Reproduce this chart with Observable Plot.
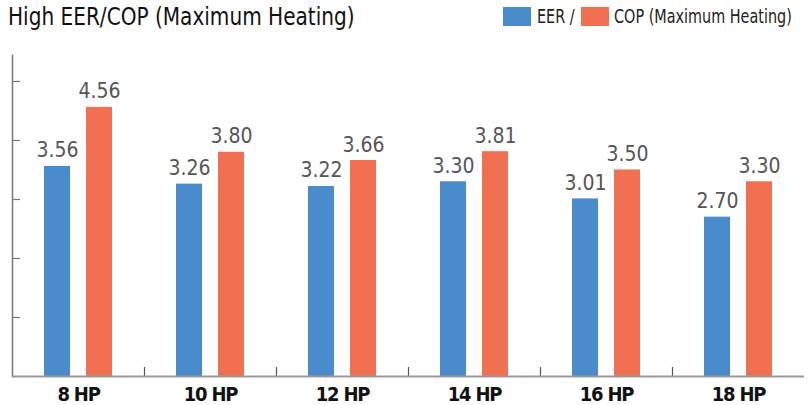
<!DOCTYPE html>
<html><head><meta charset="utf-8">
<script src="https://cdn.jsdelivr.net/npm/d3@7"></script>
<script src="https://cdn.jsdelivr.net/npm/@observablehq/plot@0.6"></script>
<style>
body{margin:0;background:#fff;font-family:"DejaVu Sans Condensed","Liberation Sans Narrow",sans-serif;}
#wrap{width:810px;height:405px;position:relative;overflow:hidden}
#head{height:40px;position:relative}
#title{position:absolute;left:8px;top:3px;font-size:24px;color:#111;white-space:nowrap;transform:scaleX(0.93);transform-origin:0 0}
.sw{position:absolute;top:7px;width:28px;height:19px}
.lt{position:absolute;top:4px;font-size:20px;color:#222;white-space:nowrap;transform:scaleX(0.8);transform-origin:0 0}
#chart svg{display:block}
#chart svg text.val{letter-spacing:-0.6px}
#chart svg g[aria-label="x-axis tick label"] text{letter-spacing:-1.2px}
</style></head>
<body><div id="wrap">
<div id="head">
<div id="title">High EER/COP (Maximum Heating)</div>
<div class="sw" style="left:503px;background:#4a8bcb"></div><div class="lt" style="left:537px">EER /</div>
<div class="sw" style="left:581px;background:#f27052"></div><div class="lt" style="left:614px">COP (Maximum Heating)</div>
</div>
<div id="chart"></div>
</div>
<script>
const categories = ["8 HP","10 HP","12 HP","14 HP","16 HP","18 HP"];
const eer = [3.56, 3.26, 3.22, 3.30, 3.01, 2.70];
const cop = [4.56, 3.80, 3.66, 3.81, 3.50, 3.30];
const yTicks = [1, 2, 3, 4, 5];
const blue = "#4a8bcb", red = "#f27052";

const eerData = categories.map((c, i) => ({cat: c, value: eer[i]}));
const copData = categories.map((c, i) => ({cat: c, value: cop[i]}));
const font = '"DejaVu Sans Condensed","Liberation Sans Narrow",sans-serif';

const chart = Plot.plot({
  width: 810, height: 365,
  marginTop: 15, marginBottom: 29, marginLeft: 12, marginRight: 6,
  x: {domain: categories, paddingInner: 0.803, paddingOuter: 0.4015, label: null},
  y: {domain: [0, 5.44], axis: null},
  style: {fontFamily: font, background: "white"},
  marks: [
    Plot.barY(eerData, {x: "cat", y: "value", fill: blue, dx: -21}),
    Plot.barY(copData, {x: "cat", y: "value", fill: red, dx: 21}),
    Plot.text(eerData, {x: "cat", y: "value", text: d => d.value.toFixed(2), dx: -21, dy: -9, lineAnchor: "bottom", fontSize: 21, fill: "#555", className: "val"}),
    Plot.text(copData, {x: "cat", y: "value", text: d => d.value.toFixed(2), dx: 21, dy: -9, lineAnchor: "bottom", fontSize: 21, fill: "#555", className: "val"}),
    Plot.frame({anchor: "left", stroke: "#777", strokeWidth: 1.5}),
    Plot.ruleY(yTicks, {insetRight: 784, stroke: "#777", strokeWidth: 1.2}),
    Plot.ruleX(categories.slice(0, -1), {dx: 66, insetTop: 312, stroke: "#555", strokeWidth: 1.2}),
    Plot.ruleY([0], {stroke: "#999", strokeWidth: 2}),
    Plot.axisX({tickSize: 0, tickPadding: 10, fontWeight: "bold", fontSize: 20, fill: "#111", label: null})
  ]
});
document.getElementById("chart").append(chart);
</script>
</body></html>
